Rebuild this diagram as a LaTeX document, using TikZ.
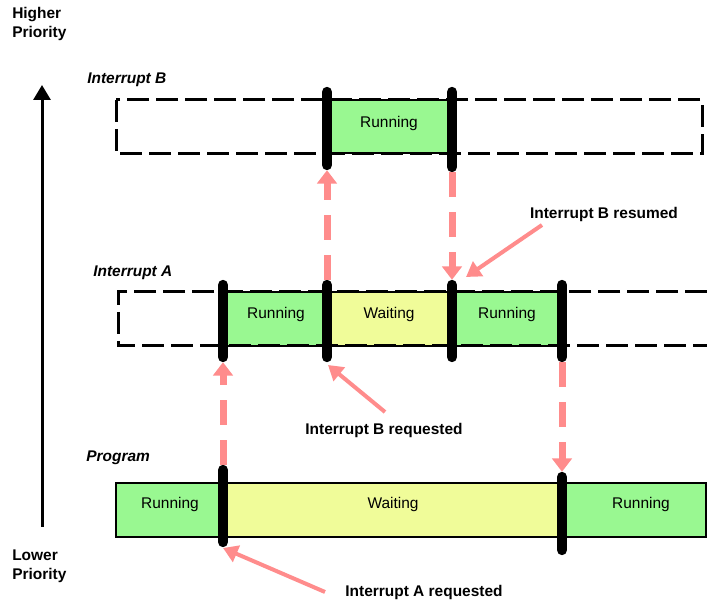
\documentclass[tikz,border=0pt]{standalone}
\usepackage{fontspec}
\setmainfont{Liberation Sans}
\usetikzlibrary{arrows.meta}
\definecolor{runcol}{RGB}{153,248,145}
\definecolor{waitcol}{RGB}{240,252,153}
\definecolor{pinkcol}{RGB}{255,140,140}
\tikzset{
  boxtext/.style={font=\fontsize{11.6}{13}\selectfont},
  labtext/.style={font=\fontsize{11.6}{14.3}\selectfont\bfseries},
  rowtext/.style={font=\fontsize{11.6}{13}\selectfont\bfseries\itshape, anchor=west, inner sep=0pt},
  frame/.style={line width=2.25pt, dash pattern=on 16.5pt off 5.25pt},
  edge/.style={line width=1.2pt},
  switchbar/.style={line width=7.8pt, line cap=round},
  jump/.style={pinkcol, line width=5.25pt, dash pattern=on 18.75pt off 11.25pt,
    -{Triangle[width=14.5pt,length=10pt]}},
  pointer/.style={pinkcol, line width=3pt, -{Triangle[width=13pt,length=11pt]}}
}
\begin{document}
\begin{tikzpicture}[x=0.75pt,y=-0.75pt]
  \useasboundingbox (0,0) rectangle (707,605);

  % Prioritaet
  \node[labtext, align=left, anchor=north west, inner sep=0pt] (hi) at (12,7) {Higher\\Priority};
  \node[labtext, align=left, anchor=north west, inner sep=0pt] (lo) at (12,550) {Lower\\Priority};
  \coordinate (up0) at (42,527);
  \coordinate (up1) at (42,85);
  \draw[line width=2.25pt, -{Triangle[width=12.75pt,length=11.25pt]}] (up0) -- (up1);

  % Zeile Interrupt B
  \node[rowtext] (labB) at (87,80) {Interrupt B};
  \fill[runcol] (327,100) rectangle (452,153);
  \draw[edge] (327,100) rectangle (452,153);
  \draw[frame] (116,100) rectangle (702,154);
  \node[boxtext] (runB) at (389,124) {Running};

  % Zeile Interrupt A
  \node[rowtext] (labA) at (93,273) {Interrupt A};
  \fill[runcol] (223,292) rectangle (327,346);
  \fill[waitcol] (327,292) rectangle (452,346);
  \fill[runcol] (452,292) rectangle (562,346);
  \draw[edge] (223,292) rectangle (562,346);
  \draw[frame] (707,292) -- (118,292) -- (118,346) -- (707,346);
  \node[boxtext] (runA1) at (276,315) {Running};
  \node[boxtext] (waitA) at (389,315) {Waiting};
  \node[boxtext] (runA2) at (507,315) {Running};

  % Zeile Program
  \node[rowtext] (labP) at (86,458) {Program};
  \fill[runcol] (116,483) rectangle (223,537);
  \fill[waitcol] (223,483) rectangle (562,537);
  \fill[runcol] (562,483) rectangle (706,537);
  \draw[edge] (116,483) rectangle (706,537);
  \node[boxtext] (runP1) at (170,505) {Running};
  \node[boxtext] (waitP) at (393,505) {Waiting};
  \node[boxtext] (runP2) at (641,505) {Running};

  % Umschaltpunkte
  \draw[switchbar] (327,92) coordinate (tB1) -- (327,165) coordinate (bB1);
  \draw[switchbar] (452,92) coordinate (tB2) -- (452,167) coordinate (bB2);
  \draw[switchbar] (223,285) coordinate (tA1) -- (223,357) coordinate (bA1);
  \draw[switchbar] (327,285) coordinate (tA2) -- (327,357) coordinate (bA2);
  \draw[switchbar] (452,285) coordinate (tA3) -- (452,357) coordinate (bA3);
  \draw[switchbar] (562,285) coordinate (tA4) -- (562,357) coordinate (bA4);
  \draw[switchbar] (223,470) coordinate (tP1) -- (223,542) coordinate (bP1);
  \draw[switchbar] (562,477) coordinate (tP2) -- (562,550) coordinate (bP2);

  % Spruenge zwischen den Ebenen
  \draw[jump] ([yshift=3.9pt]tP1) -- ([yshift=-3.9pt]bA1);
  \draw[jump] ([yshift=3.9pt]tA2) -- ([yshift=-3.9pt]bB1);
  \draw[jump] ([yshift=-3.9pt]bB2) -- ([yshift=3.9pt]tA3);
  \draw[jump] ([yshift=-3.9pt]bA4) -- ([yshift=3.9pt]tP2);

  % Beschriftungen
  \node[labtext] (resB) at (604,215) {Interrupt B resumed};
  \node[labtext] (reqB) at (384,431) {Interrupt B requested};
  \node[labtext] (reqA) at (424,593) {Interrupt A requested};
  \coordinate (resB0) at (542,225);
  \coordinate (reqB0) at (385,412);
  \coordinate (reqA0) at (325,592);
  \draw[pointer] (resB0) -- (466,277);
  \draw[pointer] (reqB0) -- ([shift={(1,8)}]bA2);
  \draw[pointer] (reqA0) -- ([shift={(0,6)}]bP1);
\end{tikzpicture}
\end{document}
